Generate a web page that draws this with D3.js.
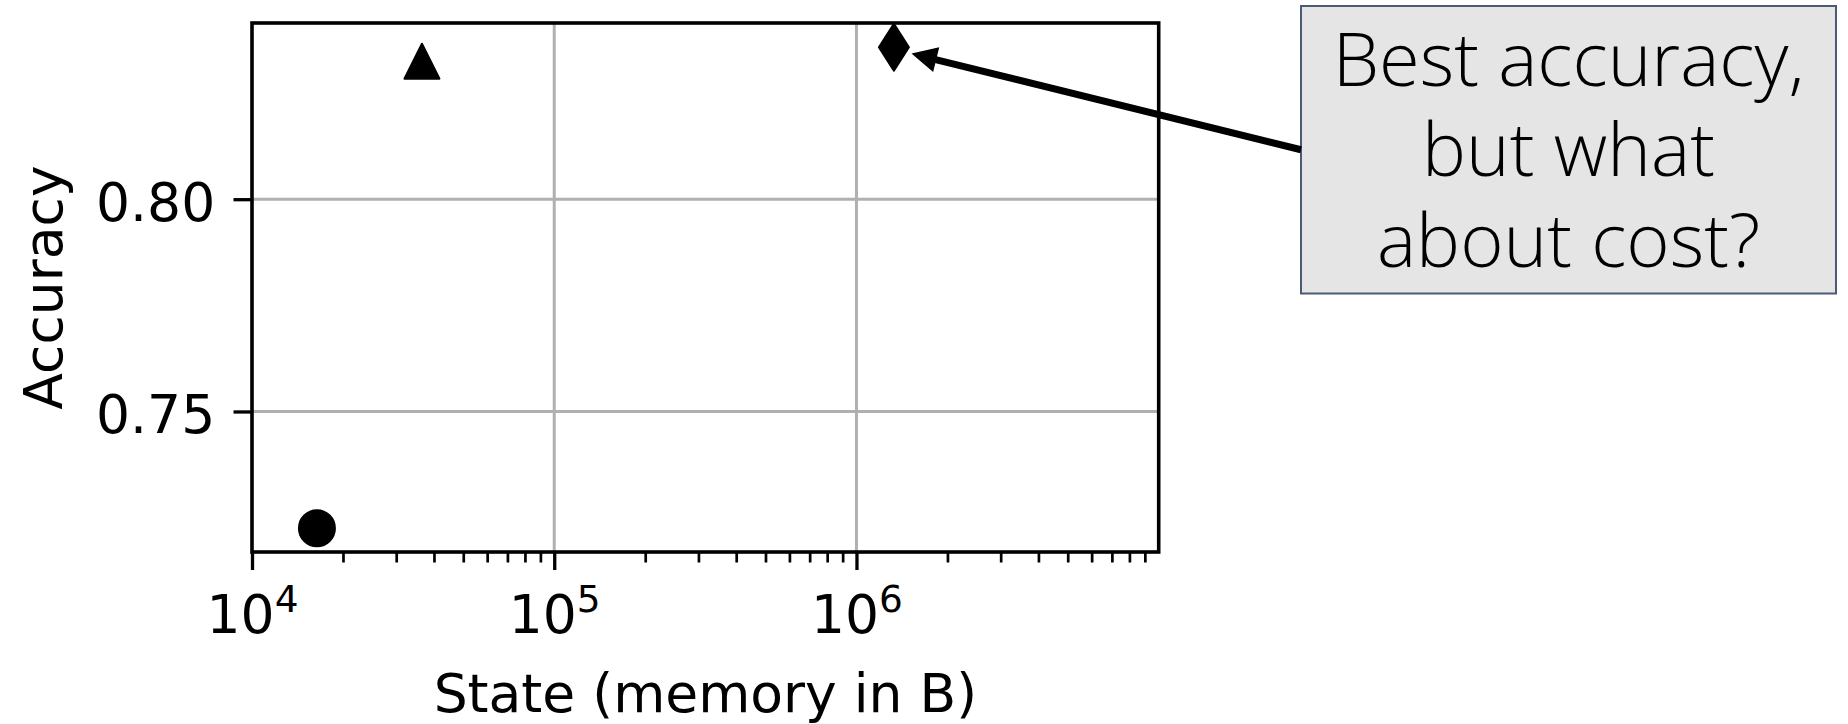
<!DOCTYPE html>
<html>
<head>
<meta charset="utf-8">
<script src="https://cdn.jsdelivr.net/npm/d3@7"></script>
<style>
  body { margin: 0; background: #fff; }
  svg { display: block; }
</style>
</head>
<body>
<svg width="1848" height="724"></svg>
<script>
// Points
const markers = ["circle", "triangle", "diamond"];
const stateBytes = [16400, 36500, 1330000];
const accuracy = [0.7225, 0.8325, 0.8358];

// Axis ticks
const xMajor = [1e4, 1e5, 1e6];
const xExponents = [4, 5, 6];
const yTicks = [0.75, 0.80];

// Annotation
const noteLines = ["Best accuracy,", "but what", "about cost?"];
const arrowTarget = { bytes: 1.54e6, acc: 0.8342 };

const plot = { left: 252, right: 1158.7, top: 23, bottom: 552 };
const font = "'DejaVu Sans', sans-serif";
const fs = 53.5;

const svg = d3.select("svg");

const x = d3.scaleLog()
    .domain([1e4, 9.99e6])
    .range([plot.left, plot.left + (plot.right - plot.left) * Math.log10(9.99e6 / 1e4) / 3]);

const y = d3.scaleLinear()
    .domain([0.7169, 0.8415])
    .range([plot.bottom, plot.top]);

// minor ticks on the log axis
const xMinor = [];
[1e4, 1e5, 1e6].forEach(d => { for (let k = 2; k <= 9; k++) xMinor.push(d * k); });

// Grid
const grid = svg.append("g").attr("stroke", "#b0b0b0").attr("stroke-width", 3);
grid.selectAll(".gx")
    .data(xMajor.slice(1))
    .enter().append("line")
    .attr("x1", d => x(d)).attr("x2", d => x(d))
    .attr("y1", plot.top).attr("y2", plot.bottom);
grid.selectAll(".gy")
    .data(yTicks)
    .enter().append("line")
    .attr("x1", plot.left).attr("x2", plot.right)
    .attr("y1", d => y(d)).attr("y2", d => y(d));

// Markers
const shapes = {
  circle: d3.symbol().type(d3.symbolCircle).size(Math.PI * 18 * 18)(),
  triangle: "M0,-17.5L17.5,17.5L-17.5,17.5Z",
  diamond: "M0,-23.5L15,0L0,23.5L-15,0Z"
};
svg.append("g")
  .selectAll("path")
  .data(markers)
  .enter().append("path")
  .attr("d", d => shapes[d])
  .attr("transform", (d, i) => `translate(${x(stateBytes[i])},${y(accuracy[i])})`)
  .attr("fill", "#000")
  .attr("stroke", "#000")
  .attr("stroke-width", 2)
  .attr("stroke-linejoin", "round");

// Spines
svg.append("rect")
    .attr("x", plot.left).attr("y", plot.top)
    .attr("width", plot.right - plot.left)
    .attr("height", plot.bottom - plot.top)
    .attr("fill", "none")
    .attr("stroke", "#000")
    .attr("stroke-width", 3.6);

// X axis (major + minor)
const xAxis = svg.append("g")
    .attr("transform", `translate(0,${plot.bottom})`)
    .call(d3.axisBottom(x).tickValues(xMajor).tickSize(18).tickFormat(""));
xAxis.select(".domain").remove();
xAxis.selectAll("line").attr("stroke", "#000").attr("stroke-width", 3.3);
xAxis.selectAll("text")
    .attr("y", 81.3).attr("dy", 0)
    .attr("font-family", font).attr("font-size", fs)
    .attr("fill", "#000")
    .attr("text-anchor", "middle")
    .each(function(d, i) {
      const t = d3.select(this);
      t.append("tspan").text("10");
      t.append("tspan").attr("dy", -21).attr("font-size", fs * 0.7).text(xExponents[i]);
    });

const xMinorAxis = svg.append("g")
    .attr("transform", `translate(0,${plot.bottom})`)
    .call(d3.axisBottom(x).tickValues(xMinor).tickSize(10.5).tickFormat(""));
xMinorAxis.select(".domain").remove();
xMinorAxis.selectAll("line").attr("stroke", "#000").attr("stroke-width", 2.7);

// Y axis
const yAxis = svg.append("g")
    .attr("transform", `translate(${plot.left},0)`)
    .call(d3.axisLeft(y).tickValues(yTicks).tickSize(18.5).tickPadding(18.3).tickFormat(d3.format(".2f")));
yAxis.select(".domain").remove();
yAxis.selectAll("line").attr("stroke", "#000").attr("stroke-width", 3.3);
yAxis.selectAll("text")
    .attr("dy", "0.39em")
    .attr("font-family", font).attr("font-size", fs)
    .attr("fill", "#000");

// Axis labels
svg.append("text")
    .attr("x", (plot.left + plot.right) / 2)
    .attr("y", 712)
    .attr("text-anchor", "middle")
    .attr("font-family", font).attr("font-size", fs)
    .text("State (memory in B)");

svg.append("text")
    .attr("transform", `translate(61.7,${(plot.top + plot.bottom) / 2}) rotate(-90)`)
    .attr("text-anchor", "middle")
    .attr("font-family", font).attr("font-size", fs)
    .text("Accuracy");

// Annotation box
const box = { x: 1301, y: 6, w: 535, h: 287.5 };
svg.append("rect")
    .attr("x", box.x).attr("y", box.y)
    .attr("width", box.w).attr("height", box.h)
    .attr("fill", "#e5e5e5")
    .attr("stroke", "#4c5b75")
    .attr("stroke-width", 2);

svg.append("g")
  .selectAll("text")
  .data(noteLines)
  .enter().append("text")
  .attr("x", box.x + box.w / 2)
  .attr("y", (d, i) => 86 + i * 90.3)
  .attr("text-anchor", "middle")
  .attr("font-family", "'Open Sans', sans-serif")
  .attr("font-weight", 300)
  .attr("font-size", 74)
  .attr("fill", "#000")
  .text(d => d);

// Arrow from box to the best point
const tip = [x(arrowTarget.bytes), y(arrowTarget.acc)];
const start = [box.x, box.y + box.h / 2];
const dx = start[0] - tip[0], dy = start[1] - tip[1];
const len = Math.hypot(dx, dy);
const ux = dx / len, uy = dy / len;
const headLen = 23, headHalf = 11.5;
const base = [tip[0] + ux * headLen, tip[1] + uy * headLen];

svg.append("line")
    .attr("x1", start[0]).attr("y1", start[1])
    .attr("x2", base[0] - ux * 2).attr("y2", base[1] - uy * 2)
    .attr("stroke", "#000")
    .attr("stroke-width", 7);

svg.append("path")
    .attr("d", `M${tip[0]},${tip[1]}L${base[0] - uy * headHalf},${base[1] + ux * headHalf}L${base[0] + uy * headHalf},${base[1] - ux * headHalf}Z`)
    .attr("fill", "#000")
    .attr("stroke", "#000")
    .attr("stroke-width", 1.5)
    .attr("stroke-linejoin", "miter");
</script>
</body>
</html>
